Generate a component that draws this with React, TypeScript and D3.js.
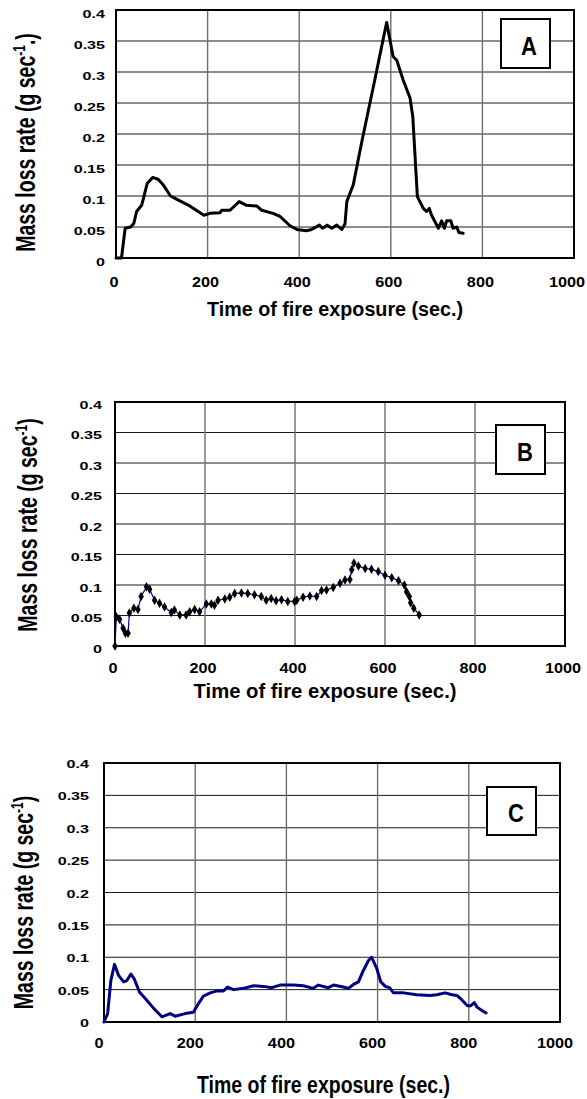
import React from "react";
import * as d3 from "d3";

// ---------- data ----------
const xTicks = [0, 200, 400, 600, 800, 1000];
const xTickLabels = ["0", "200", "400", "600", "800", "1000"];
const yTicks = [0, 0.05, 0.1, 0.15, 0.2, 0.25, 0.3, 0.35, 0.4];
const yTickLabels = ["0", "0.05", "0.1", "0.15", "0.2", "0.25", "0.3", "0.35", "0.4"];

const timeA = [0, 12, 20, 32, 39, 45, 56, 60, 68, 80, 92, 103, 119, 132, 161, 192, 205, 227, 231, 249, 269, 285, 307, 318, 343, 358, 380, 395, 416, 427, 444, 451, 461, 471, 482, 493, 500, 504, 518, 536, 555, 565, 580, 591, 605, 613, 627, 642, 648, 658, 671, 678, 684, 689, 704, 711, 717, 722, 731, 736, 744, 749, 758];
const rateA = [0, 0, 0.048, 0.05, 0.056, 0.075, 0.085, 0.096, 0.12, 0.13, 0.127, 0.118, 0.1, 0.095, 0.084, 0.069, 0.072, 0.073, 0.077, 0.077, 0.091, 0.085, 0.084, 0.077, 0.072, 0.067, 0.052, 0.046, 0.044, 0.046, 0.053, 0.048, 0.053, 0.048, 0.053, 0.046, 0.055, 0.091, 0.118, 0.185, 0.252, 0.287, 0.341, 0.38, 0.325, 0.319, 0.287, 0.258, 0.228, 0.099, 0.08, 0.075, 0.08, 0.069, 0.048, 0.06, 0.048, 0.06, 0.06, 0.048, 0.05, 0.041, 0.04];

const timeB = [0, 3, 10, 18, 23, 29, 32, 42, 51, 58, 70, 77, 88, 99, 110, 125, 132, 144, 158, 166, 177, 188, 203, 214, 221, 229, 244, 255, 266, 281, 295, 310, 325, 336, 347, 358, 370, 384, 399, 404, 418, 433, 448, 459, 470, 485, 500, 511, 522, 526, 531, 541, 556, 570, 585, 600, 615, 630, 643, 648, 654, 657, 664, 676];
const rateB = [0, 0.048, 0.044, 0.029, 0.021, 0.021, 0.054, 0.062, 0.06, 0.081, 0.097, 0.093, 0.075, 0.07, 0.064, 0.055, 0.059, 0.051, 0.051, 0.056, 0.06, 0.056, 0.069, 0.069, 0.067, 0.075, 0.077, 0.08, 0.086, 0.087, 0.086, 0.084, 0.081, 0.075, 0.078, 0.074, 0.076, 0.073, 0.073, 0.075, 0.08, 0.082, 0.081, 0.091, 0.092, 0.096, 0.103, 0.108, 0.109, 0.125, 0.136, 0.131, 0.127, 0.126, 0.122, 0.116, 0.112, 0.107, 0.1, 0.089, 0.081, 0.071, 0.062, 0.051];

const timeC = [0, 8, 15, 23, 32, 43, 50, 59, 66, 78, 91, 109, 127, 145, 156, 178, 196, 205, 218, 233, 248, 262, 271, 284, 306, 328, 350, 368, 386, 416, 437, 459, 470, 492, 503, 511, 525, 536, 547, 558, 569, 580, 587, 598, 607, 617, 626, 635, 657, 686, 715, 730, 748, 763, 774, 785, 797, 804, 812, 818, 828, 838];
const rateC = [0, 0.013, 0.064, 0.089, 0.072, 0.062, 0.064, 0.074, 0.067, 0.046, 0.036, 0.021, 0.008, 0.013, 0.009, 0.013, 0.015, 0.026, 0.04, 0.045, 0.048, 0.048, 0.054, 0.05, 0.052, 0.056, 0.055, 0.053, 0.057, 0.057, 0.056, 0.052, 0.057, 0.053, 0.057, 0.056, 0.054, 0.052, 0.058, 0.062, 0.08, 0.095, 0.1, 0.083, 0.062, 0.055, 0.053, 0.045, 0.045, 0.042, 0.041, 0.042, 0.045, 0.042, 0.041, 0.034, 0.025, 0.025, 0.03, 0.023, 0.018, 0.014];

const xTitle = "Time of fire exposure (sec.)";

// ---------- layout ----------
type Panel = {
  key: string;
  time: number[];
  rate: number[];
  left: number; right: number; top: number; bottom: number;
  yTitleTail: string; yTitleX: number; yTitleCY: number;
  yLabelRight: number; yLabelDy: number;
  xLabelDy: number; xLabelDx: number;
  titleCX: number; titleY: number; titleW: number; titleSize: number;
  box: [number, number, number, number];
  letterX: number; letterY: number;
  style: "black" | "markers" | "navy";
};

const panels: Panel[] = [
  {
    key: "A", time: timeA, rate: rateA,
    left: 116, right: 574, top: 10, bottom: 258,
    yTitleTail: ".)", yTitleX: 35, yTitleCY: 142.5,
    yLabelRight: 105, yLabelDy: 7.5, xLabelDy: 28.5, xLabelDx: -2,
    titleCX: 335, titleY: 316, titleW: 256, titleSize: 20,
    box: [501, 19, 49, 49], letterX: 529, letterY: 55,
    style: "black",
  },
  {
    key: "B", time: timeB, rate: rateB,
    left: 115, right: 565, top: 402, bottom: 646,
    yTitleTail: ")", yTitleX: 37, yTitleCY: 525,
    yLabelRight: 102, yLabelDy: 6.5, xLabelDy: 27, xLabelDx: -2,
    titleCX: 325, titleY: 698, titleW: 263, titleSize: 20,
    box: [496, 425, 49, 49], letterX: 525, letterY: 461,
    style: "markers",
  },
  {
    key: "C", time: timeC, rate: rateC,
    left: 104, right: 560, top: 763, bottom: 1022,
    yTitleTail: ")", yTitleX: 33, yTitleCY: 902.5,
    yLabelRight: 89, yLabelDy: 5, xLabelDy: 26, xLabelDx: -5,
    titleCX: 323.5, titleY: 1093, titleW: 253, titleSize: 23,
    box: [487, 787, 49, 48], letterX: 516, letterY: 822,
    style: "navy",
  },
];

const FONT = "'Liberation Sans', Arial, Helvetica, sans-serif";
const MAX_LABEL_CX = 567;

function ChartPanel({ p }: { p: Panel }) {
  const x = d3.scaleLinear().domain([0, 1000]).range([p.left, p.right]);
  const y = d3.scaleLinear().domain([0, 0.4]).range([p.bottom, p.top]);
  const pts = p.time.map((t, i) => [t, p.rate[i]] as [number, number]);
  const line = d3.line<[number, number]>().x((d) => x(d[0])).y((d) => y(d[1]));
  const path = line(pts) || "";
  const diamond = d3.symbol().type(d3.symbolDiamond).size(26)() || "";

  return (
    <g>
      {yTicks.map((v) => (
        <line key={"h" + v} x1={p.left} x2={p.right} y1={y(v)} y2={y(v)} stroke="#1a1a1a" strokeWidth={1} />
      ))}
      {xTicks.map((v) => (
        <line key={"v" + v} x1={x(v)} x2={x(v)} y1={p.top} y2={p.bottom} stroke="#6e6e6e" strokeWidth={1.4} />
      ))}
      <rect x={p.left} y={p.top} width={p.right - p.left} height={p.bottom - p.top} fill="none" stroke="#000" strokeWidth={2} />

      {p.style === "black" && (
        <path d={path} fill="none" stroke="#000" strokeWidth={3} strokeLinejoin="round" strokeLinecap="round" />
      )}
      {p.style === "navy" && (
        <path d={path} fill="none" stroke="#000080" strokeWidth={3} strokeLinejoin="round" strokeLinecap="round" />
      )}
      {p.style === "markers" && (
        <g>
          <path d={path} fill="none" stroke="#0000a0" strokeWidth={1.2} />
          {pts.map((d, i) => (
            <path key={i} d={diamond} transform={`translate(${x(d[0])},${y(d[1])})`} fill="#000" />
          ))}
        </g>
      )}

      <rect x={p.box[0]} y={p.box[1]} width={p.box[2]} height={p.box[3]} fill="#fff" stroke="#000" strokeWidth={2} />
      <text transform={`translate(${p.letterX},${p.letterY}) scale(0.88,1)`} textAnchor="middle" fontFamily={FONT} fontWeight="bold" fontSize={25} fill="#000">
        {p.key}
      </text>

      {yTicks.map((v, i) => (
        <text key={"yl" + v} transform={`translate(${p.yLabelRight},${y(v) + p.yLabelDy}) scale(1.4,1)`} textAnchor="end" fontFamily={FONT} fontWeight="bold" fontSize={11.5} fill="#000">
          {yTickLabels[i]}
        </text>
      ))}
      {xTicks.map((v, i) => (
        <text key={"xl" + v} transform={`translate(${Math.min(x(v) + p.xLabelDx, MAX_LABEL_CX)},${p.bottom + p.xLabelDy}) scale(1.12,1)`} textAnchor="middle" fontFamily={FONT} fontWeight="bold" fontSize={14.5} fill="#000">
          {xTickLabels[i]}
        </text>
      ))}

      <text transform={`translate(${p.yTitleX},${p.yTitleCY}) scale(1.4,1) rotate(-90)`} textAnchor="middle" fontFamily={FONT} fontWeight="bold" fontSize={19.5} fill="#000">
        Mass loss rate (g sec
        <tspan dy={-7} fontSize={12}>-1</tspan>
        <tspan dy={7}>{p.yTitleTail}</tspan>
      </text>

      <text x={p.titleCX} y={p.titleY} textAnchor="middle" textLength={p.titleW} lengthAdjust="spacingAndGlyphs" fontFamily={FONT} fontWeight="bold" fontSize={p.titleSize} fill="#000">
        {xTitle}
      </text>
    </g>
  );
}

export default function App() {
  return (
    <svg width={587} height={1099} viewBox="0 0 587 1099" style={{ position: "absolute", left: 0, top: 0, display: "block", background: "#fff" }}>
      <rect x={0} y={0} width={587} height={1099} fill="#fff" />
      {panels.map((p) => (
        <ChartPanel key={p.key} p={p} />
      ))}
    </svg>
  );
}
